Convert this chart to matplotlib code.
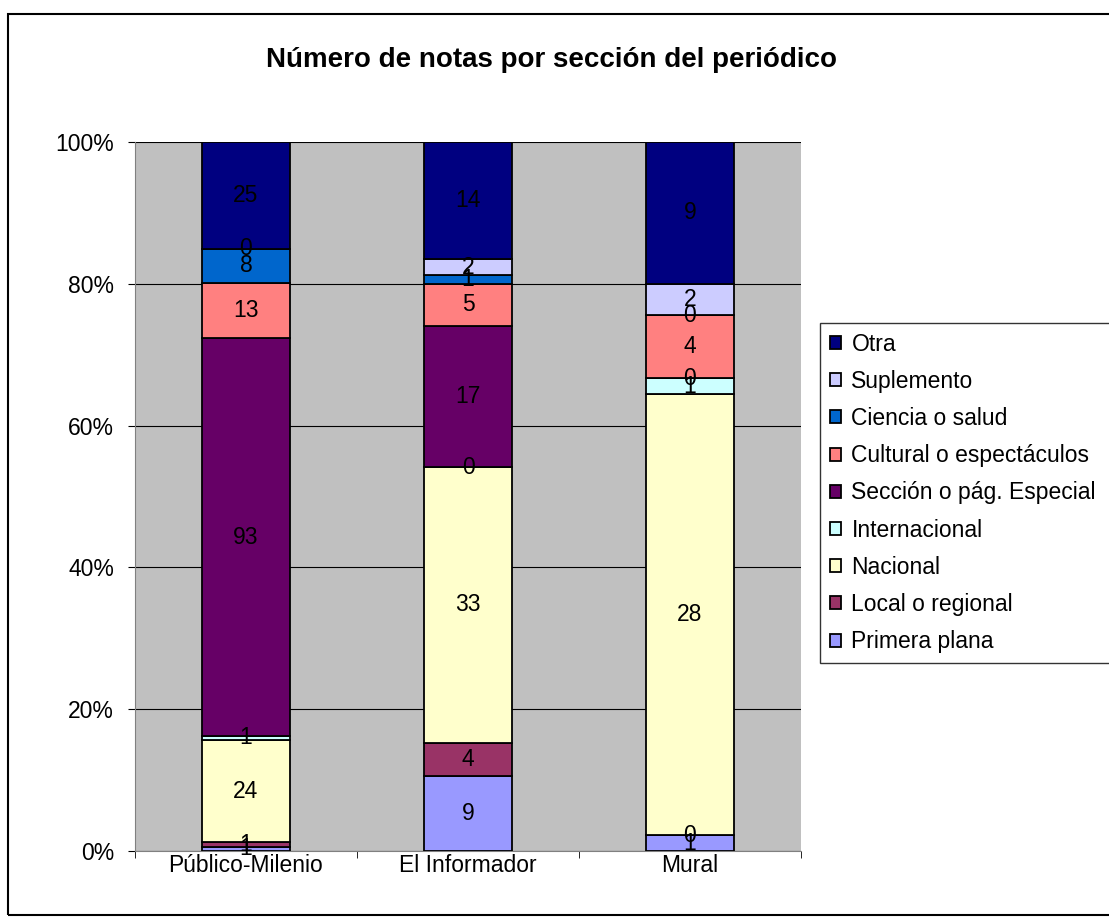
import matplotlib
matplotlib.use("Agg")
import matplotlib.pyplot as plt
import matplotlib.patches as mpatches
import numpy as np

plt.rcParams['font.family'] = ['Liberation Sans', 'DejaVu Sans']

categories = ["Público-Milenio", "El Informador", "Mural"]
series_names = ["Primera plana", "Local o regional", "Nacional", "Internacional",
                "Sección o pág. Especial", "Cultural o espectáculos",
                "Ciencia o salud", "Suplemento", "Otra"]
primera = [1, 9, 1]
local = [1, 4, 0]
nacional = [24, 33, 28]
internacional = [1, 0, 1]
especial = [93, 17, 0]
cultural = [13, 5, 4]
ciencia = [8, 1, 0]
suplemento = [0, 2, 2]
otra = [25, 14, 9]
series_values = [primera, local, nacional, internacional, especial,
                 cultural, ciencia, suplemento, otra]
colors = ["#9999FF", "#993366", "#FFFFCC", "#CCFFFF", "#660066",
          "#FF8080", "#0066CC", "#CCCCFF", "#000080"]
ytick_labels = ["0%", "20%", "40%", "60%", "80%", "100%"]

W, H = 1109, 917
FS = 16.5
fig = plt.figure(figsize=(W/100, H/100), dpi=100)
ax = fig.add_axes([135/W, 1-851/H, 666/W, 709/H])
ax.set_facecolor("#C0C0C0")

vals = np.array(series_values, dtype=float)
totals = vals.sum(axis=0)
pct = vals / totals * 100
x = np.arange(len(categories))
bottom = np.zeros(len(categories))
handles = []
for name, v, p, c in zip(series_names, series_values, pct, colors):
    bars = ax.bar(x, p, 0.4, bottom=bottom, color=c, edgecolor="black",
                  linewidth=1.3, label=name, zorder=3)
    ax.bar_label(bars, labels=[str(int(t)) for t in v], label_type="center",
                 fontsize=FS, color="black", zorder=4)
    bottom += p
    handles.append(bars)

ax.set_xlim(-0.5, 2.5)
ax.set_ylim(0, 100)
ax.set_yticks([0, 20, 40, 60, 80, 100])
ax.set_yticklabels(ytick_labels, fontsize=FS)
ax.set_xticks(x)
ax.set_xticklabels(categories, fontsize=FS)
ax.set_xticks([-0.5, 0.5, 1.5, 2.5], minor=True)
ax.tick_params(axis="x", which="major", length=0, pad=2)
ax.tick_params(axis="x", which="minor", length=5, color="black")
ax.tick_params(axis="y", length=5, color="black", pad=10)
ax.grid(axis="y", color="black", linewidth=0.8, zorder=1)
for s in ["top", "right"]:
    ax.spines[s].set_visible(False)
ax.spines["left"].set_color("#808080")
ax.spines["bottom"].set_color("#808080")

fig.text(551/W, 1-60/H, "Número de notas por sección del periódico",
         ha="center", va="center", fontsize=20, fontweight="bold")

leg = fig.legend(handles[::-1], series_names[::-1], loc="upper left",
                 bbox_to_anchor=(820/W, 1-323/H, 310/W, 0), mode="expand",
                 fontsize=FS, frameon=True, fancybox=False, edgecolor="black",
                 handlelength=0.5, handleheight=0.5, handletextpad=0.45,
                 labelspacing=0.62, borderpad=0.42, borderaxespad=0)
leg.get_frame().set_linewidth(1.0)

fig.patches.append(mpatches.Rectangle((8/W, 1-915/H), 1.2, (915-14)/H,
                                      transform=fig.transFigure, fill=False,
                                      edgecolor="black", linewidth=1.5))

fig.savefig("out.png", dpi=100, facecolor="white")
